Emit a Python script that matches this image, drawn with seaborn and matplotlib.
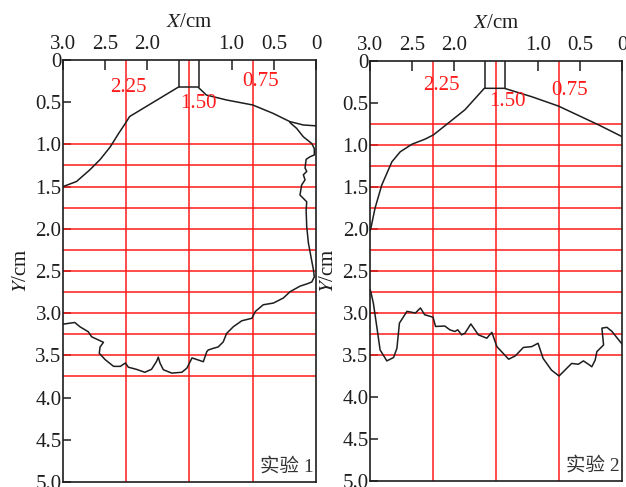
import matplotlib
matplotlib.use('Agg')
import matplotlib.pyplot as plt
import seaborn as sns

# 实验 1: upper jet boundary and the lower/right scour boundary
exp1_top_x = [3.0, 2.84, 2.68, 2.56, 2.44, 2.34, 2.26, 2.21, 1.63, 1.40, 1.30, 1.06, 0.75, 0.51, 0.31, 0.15, 0.0]
exp1_top_y = [1.50, 1.44, 1.30, 1.18, 1.03, 0.87, 0.75, 0.67, 0.32, 0.32, 0.415, 0.474, 0.533, 0.632, 0.73, 0.77, 0.78]

exp1_bot_x = [3.0, 2.86, 2.80, 2.70, 2.66, 2.52, 2.56, 2.57, 2.50, 2.40, 2.32, 2.26, 2.225, 2.13, 2.03, 1.95,
              1.89, 1.87, 1.85, 1.81, 1.71, 1.59, 1.53, 1.47, 1.395, 1.336, 1.295, 1.277, 1.217, 1.16, 1.10,
              1.06, 0.98, 0.88, 0.76, 0.72, 0.625, 0.505, 0.387, 0.307, 0.19, 0.10, 0.05, 0.02, 0.03, 0.06,
              0.09, 0.11, 0.117, 0.11, 0.15, 0.19, 0.17, 0.13, 0.15, 0.11, 0.13, 0.117, 0.07, 0.02, 0.02,
              0.05, 0.15, 0.23, 0.31]
exp1_bot_y = [3.13, 3.11, 3.16, 3.22, 3.28, 3.345, 3.40, 3.475, 3.55, 3.63, 3.63, 3.59, 3.64, 3.665, 3.70, 3.665,
              3.57, 3.52, 3.59, 3.67, 3.71, 3.70, 3.65, 3.53, 3.555, 3.575, 3.456, 3.436, 3.416, 3.40, 3.34,
              3.24, 3.16, 3.09, 3.06, 2.98, 2.90, 2.88, 2.82, 2.745, 2.68, 2.65, 2.63, 2.57, 2.49, 2.33,
              2.17, 1.975, 1.78, 1.68, 1.64, 1.60, 1.48, 1.42, 1.36, 1.32, 1.28, 1.177, 1.146, 1.125, 1.05,
              0.99, 0.91, 0.81, 0.74]

# 实验 2
exp2_top_x = [3.0, 2.99, 2.94, 2.86, 2.74, 2.64, 2.50, 2.345, 2.246, 2.07, 1.87, 1.64, 1.40, 1.075, 0.758, 0.28, 0.0]
exp2_top_y = [2.02, 1.99, 1.75, 1.476, 1.20, 1.08, 0.99, 0.93, 0.88, 0.74, 0.58, 0.325, 0.325, 0.425, 0.536, 0.76, 0.90]

exp2_bot_x = [3.0, 2.99, 2.96, 2.92, 2.88, 2.80, 2.72, 2.68, 2.65, 2.56, 2.46, 2.40, 2.35, 2.25, 2.22, 2.11,
              2.05, 1.99, 1.956, 1.91, 1.87, 1.80, 1.71, 1.61, 1.55, 1.49, 1.35, 1.27, 1.175, 1.075, 1.00,
              0.94, 0.84, 0.75, 0.68, 0.60, 0.52, 0.46, 0.40, 0.36, 0.32, 0.30, 0.22, 0.24, 0.18, 0.12, 0.0]
exp2_bot_y = [2.72, 2.75, 2.885, 3.16, 3.44, 3.57, 3.53, 3.42, 3.12, 2.98, 3.00, 2.94, 3.02, 3.05, 3.16, 3.155,
              3.20, 3.22, 3.20, 3.26, 3.24, 3.13, 3.26, 3.30, 3.23, 3.40, 3.55, 3.51, 3.41, 3.40, 3.36,
              3.54, 3.68, 3.75, 3.68, 3.60, 3.61, 3.57, 3.61, 3.64, 3.56, 3.46, 3.38, 3.18, 3.17, 3.22, 3.37]

# red measuring grid
grid_x = [2.25, 1.50, 0.75]
grid_x_labels = ['2.25', '1.50', '0.75']
exp1_grid_y = [1.0, 1.25, 1.5, 1.75, 2.0, 2.25, 2.5, 2.75, 3.0, 3.25, 3.5, 3.75]
exp2_grid_y = [0.75, 1.0, 1.25, 1.5, 1.75, 2.0, 2.25, 2.5, 2.75, 3.0, 3.25, 3.5]

# nozzle walls
nozzle_x = [1.63, 1.39]
nozzle_bottom = 0.32

x_ticks = [3.0, 2.5, 2.0, 1.0, 0.5, 0.0]
x_tick_labels = ['3.0', '2.5', '2.0', '1.0', '0.5', '0']
y_ticks = [0, 0.5, 1.0, 1.5, 2.0, 2.5, 3.0, 3.5, 4.0, 4.5, 5.0]
y_tick_labels = ['0', '0.5', '1.0', '1.5', '2.0', '2.5', '3.0', '3.5', '4.0', '4.5', '5.0']

sns.set_style('ticks')
plt.rcParams['font.family'] = ['Liberation Serif', 'Noto Sans CJK SC']
plt.rcParams['mathtext.fontset'] = 'stix'

fig = plt.figure(figsize=(6.26, 4.87), dpi=100)
ax1 = fig.add_axes([0.1006, 0.0103, 0.4042, 0.8665])
ax2 = fig.add_axes([0.5911, 0.0123, 0.4026, 0.8624])

ink = '#1e1e1e'
red = '#ff1a1a'
fs = 15


def draw_panel(ax, curves, grid_y, label_pos, name):
    for gx in grid_x:
        ax.axvline(gx, color=red, lw=1.1, zorder=1)
    for gy in grid_y:
        ax.axhline(gy, color=red, lw=1.1, zorder=1)
    for cx, cy in curves:
        sns.lineplot(x=cx, y=cy, ax=ax, sort=False, estimator=None,
                     color=ink, lw=1.1, zorder=3)
    for nx in nozzle_x:
        ax.plot([nx, nx], [0, nozzle_bottom], color=ink, lw=1.1, zorder=3)
    for txt, (tx, ty) in zip(grid_x_labels, label_pos):
        ax.text(tx, ty, txt, color=red, fontsize=fs, ha='center', va='center', zorder=4)
    ax.text(0.03, 4.82, name, fontsize=14, color='#333333', ha='right', va='center')

    ax.set_xlim(3.0, 0.0)
    ax.set_ylim(5.0, 0.0)
    ax.set_xticks(x_ticks)
    ax.set_xticklabels(x_tick_labels)
    ax.set_yticks(y_ticks)
    ax.set_yticklabels(y_tick_labels)
    ax.xaxis.tick_top()
    ax.xaxis.set_label_position('top')
    ax.tick_params(axis='x', direction='in', length=7, width=1.1, labelsize=fs,
                   pad=4, colors=ink)
    ax.tick_params(axis='y', direction='in', length=6, width=1.1, labelsize=fs,
                   pad=1, colors=ink)
    ax.set_xlabel('$X$/cm', fontsize=fs, labelpad=6, color=ink)
    ax.set_ylabel('$Y$/cm', fontsize=fs, labelpad=3, color=ink)
    for sp in ax.spines.values():
        sp.set_color(ink)
        sp.set_linewidth(1.2)


draw_panel(ax1, [(exp1_top_x, exp1_top_y), (exp1_bot_x, exp1_bot_y)], exp1_grid_y,
           [(2.22, 0.32), (1.40, 0.52), (0.66, 0.25)], '实验 1')
draw_panel(ax2, [(exp2_top_x, exp2_top_y), (exp2_bot_x, exp2_bot_y)], exp2_grid_y,
           [(2.15, 0.29), (1.36, 0.48), (0.63, 0.35)], '实验 2')

fig.savefig('out.png', dpi=100)
